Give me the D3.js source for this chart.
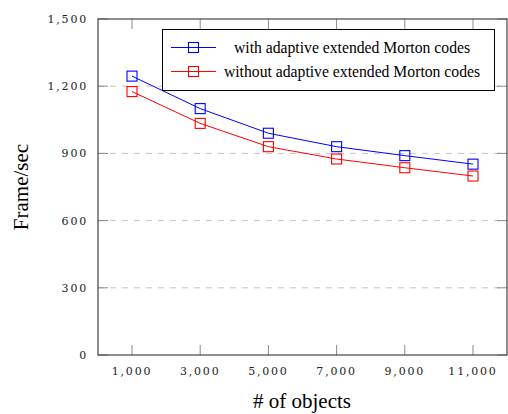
<!DOCTYPE html>
<html>
<head>
<meta charset="utf-8">
<script src="https://cdn.jsdelivr.net/npm/d3@7"></script>
<style>
  body { margin: 0; background: #fff; }
  .tick-label { font-family: "DejaVu Serif", serif; font-size: 11px; letter-spacing: 1.8px; fill: #222; }
  .axis-title { font-family: "Liberation Serif", "Times New Roman", serif; font-size: 21px; fill: #000; }
  .legend-text { font-family: "Liberation Serif", "Times New Roman", serif; font-size: 15.7px; fill: #000; }
</style>
</head>
<body>
<svg id="chart" width="508" height="414"></svg>
<script>
const width = 508;
const height = 414;

/* DATA */
const objects = [1000, 3000, 5000, 7000, 9000, 11000];
const withAdaptive = [1245, 1100, 990, 930, 890, 852];
const withoutAdaptive = [1176, 1034, 930, 875, 836, 799];
const yTicks = [0, 300, 600, 900, 1200, 1500];
const seriesNames = ["with adaptive extended Morton codes", "without adaptive extended Morton codes"];
const seriesColors = ["#0000ff", "#ff0000"];

const margin = { top: 19, bottom: 59, left: 98, right: 1 };

const svg = d3.select("svg#chart");

// 1,000 sits at x=132 and 11,000 at x=473 inside a frame spanning 98..507
const pxPerUnit = (473 - 132) / 10000;
const scales = {
  x: d3.scaleLinear()
    .domain([1000 - (132 - margin.left) / pxPerUnit, 1000 + (width - margin.right - 132) / pxPerUnit])
    .range([margin.left, width - margin.right]),
  y: d3.scaleLinear().domain([0, 1500]).range([height - margin.bottom, margin.top])
};

const x0 = scales.x.range()[0], x1 = scales.x.range()[1];
const y0 = scales.y.range()[0], y1 = scales.y.range()[1];

/* GRID */
svg.append("g").selectAll("line")
  .data(yTicks.filter(d => d > 0 && d < 1500))
  .enter().append("line")
  .attr("x1", x0).attr("x2", x1)
  .attr("y1", d => scales.y(d)).attr("y2", d => scales.y(d))
  .attr("stroke", "#c4c4c4")
  .attr("stroke-dasharray", "6,6");

/* TICKS (inside, both sides) */
const tickGroup = svg.append("g").attr("stroke", "#8a8a8a");
objects.forEach(d => {
  tickGroup.append("line").attr("x1", scales.x(d)).attr("x2", scales.x(d)).attr("y1", y0).attr("y2", y0 - 10);
  tickGroup.append("line").attr("x1", scales.x(d)).attr("x2", scales.x(d)).attr("y1", y1).attr("y2", y1 + 10);
});
yTicks.forEach(d => {
  tickGroup.append("line").attr("x1", x0).attr("x2", x0 + 10).attr("y1", scales.y(d)).attr("y2", scales.y(d));
  tickGroup.append("line").attr("x1", x1).attr("x2", x1 - 10).attr("y1", scales.y(d)).attr("y2", scales.y(d));
});

/* FRAME */
svg.append("rect")
  .attr("x", x0).attr("y", y1)
  .attr("width", x1 - x0).attr("height", y0 - y1)
  .attr("fill", "none")
  .attr("stroke", "#444")
  .attr("stroke-width", 1.2);

/* TICK LABELS */
const fmt = d3.format(",");
svg.append("g").selectAll("text")
  .data(objects)
  .enter().append("text")
  .attr("class", "tick-label")
  .attr("x", d => scales.x(d))
  .attr("y", 375)
  .attr("text-anchor", "middle")
  .text(d => fmt(d));

svg.append("g").selectAll("text")
  .data(yTicks)
  .enter().append("text")
  .attr("class", "tick-label")
  .attr("x", 88)
  .attr("y", d => scales.y(d) + 4)
  .attr("text-anchor", "end")
  .text(d => fmt(d));

/* AXIS TITLES */
svg.append("text")
  .attr("class", "axis-title")
  .attr("x", 302)
  .attr("y", 408)
  .attr("text-anchor", "middle")
  .text("# of objects");

svg.append("text")
  .attr("class", "axis-title")
  .attr("transform", "translate(28," + ((y0 + y1) / 2) + ") rotate(-90)")
  .attr("text-anchor", "middle")
  .text("Frame/sec");

/* SERIES */
const line = d3.line()
  .x((d, i) => scales.x(objects[i]))
  .y(d => scales.y(d));

[withAdaptive, withoutAdaptive].forEach((values, k) => {
  const g = svg.append("g");
  g.append("path")
    .attr("d", line(values))
    .attr("fill", "none")
    .attr("stroke", seriesColors[k])
    .attr("stroke-width", 1);
  g.selectAll("rect")
    .data(values)
    .enter().append("rect")
    .attr("x", (d, i) => scales.x(objects[i]) - 5)
    .attr("y", d => scales.y(d) - 5)
    .attr("width", 10).attr("height", 10)
    .attr("fill", "none")
    .attr("stroke", seriesColors[k])
    .attr("stroke-width", 1.1);
});

/* LEGEND */
const legend = svg.append("g");
legend.append("rect")
  .attr("x", 162.5).attr("y", 29.5)
  .attr("width", 332).attr("height", 61)
  .attr("fill", "#fff")
  .attr("stroke", "#000")
  .attr("stroke-width", 1);

seriesNames.forEach((name, k) => {
  const ly = 47.5 + k * 24;
  legend.append("line")
    .attr("x1", 171).attr("x2", 216)
    .attr("y1", ly).attr("y2", ly)
    .attr("stroke", seriesColors[k]);
  legend.append("rect")
    .attr("x", 188.5).attr("y", ly - 5)
    .attr("width", 10).attr("height", 10)
    .attr("fill", "none")
    .attr("stroke", seriesColors[k])
    .attr("stroke-width", 1.1);
  legend.append("text")
    .attr("class", "legend-text")
    .attr("x", 352)
    .attr("y", ly + 5)
    .attr("text-anchor", "middle")
    .text(name);
});
</script>
</body>
</html>
